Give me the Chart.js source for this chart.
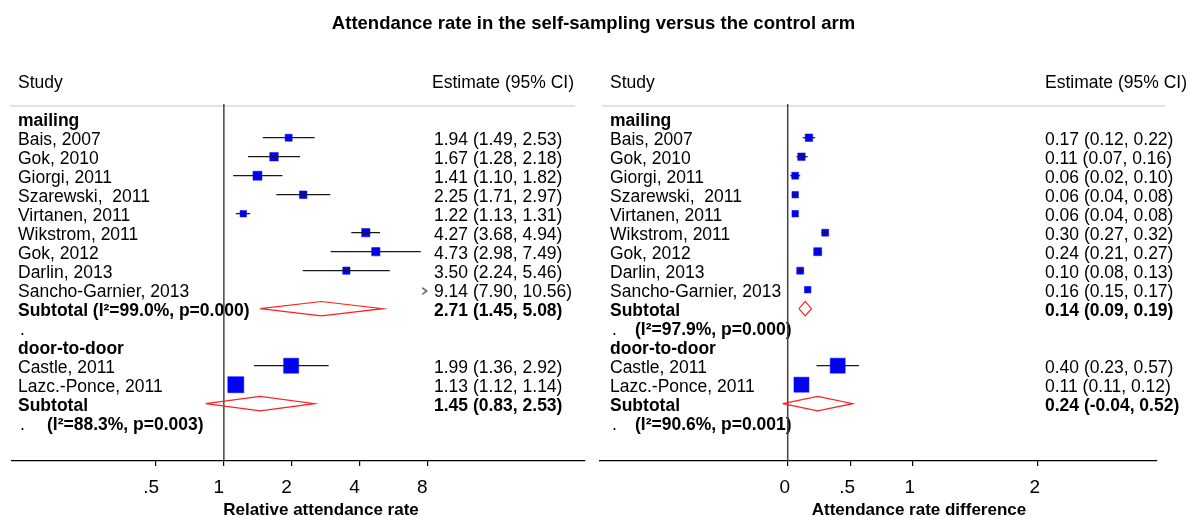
<!DOCTYPE html>
<html>
<head>
<meta charset="utf-8">
<title>Attendance rate forest plot</title>
<script src="https://cdn.jsdelivr.net/npm/chart.js@4.4.0/dist/chart.umd.min.js"></script>
<style>
  body { margin: 0; background: #fff; }
  #wrap { position: relative; width: 1187px; height: 517px; }
  #wrap canvas { position: absolute; left: 0; top: 0; }
  #title { position: absolute; left: 0; top: 12px; width: 1187px; text-align: center;
           font: bold 18.5px "Liberation Sans", Arial, sans-serif; line-height: 21px; color: #000; }
</style>
</head>
<body>
<div id="wrap">
  <canvas id="rr" width="1187" height="517"></canvas>
  <canvas id="rd" width="1187" height="517"></canvas>
  <div id="title">Attendance rate in the self-sampling versus the control arm</div>
</div>
<script>
const FONT = '"Liberation Sans", Arial, sans-serif';

// table rows, counted from the first group heading
const groups = ['mailing', 'door-to-door'];
const groupRows = [0, 12];
const studies = ['Bais, 2007', 'Gok, 2010', 'Giorgi, 2011', 'Szarewski,  2011', 'Virtanen, 2011',
  'Wikstrom, 2011', 'Gok, 2012', 'Darlin, 2013', 'Sancho-Garnier, 2013', 'Castle, 2011', 'Lazc.-Ponce, 2011'];
const studyRows = [1, 2, 3, 4, 5, 6, 7, 8, 9, 13, 14];
const subRows = [10, 15];

// relative attendance rate
const rrEst  = [1.94, 1.67, 1.41, 2.25, 1.22, 4.27, 4.73, 3.50, 9.14, 1.99, 1.13];
const rrLow  = [1.49, 1.28, 1.10, 1.71, 1.13, 3.68, 2.98, 2.24, 7.90, 1.36, 1.12];
const rrHigh = [2.53, 2.18, 1.82, 2.97, 1.31, 4.94, 7.49, 5.46, 10.56, 2.92, 1.14];
const rrWeight = [4.8, 7.1, 7.9, 5.5, 4.1, 6.7, 6.7, 5.2, 4.8, 22.0, 25.1];
const rrSubEst  = [2.71, 1.45];
const rrSubLow  = [1.45, 0.83];
const rrSubHigh = [5.08, 2.53];
const rrHet = ['(I²=99.0%, p=0.000)', '(I²=88.3%, p=0.003)'];
const rrTicks = [0.5, 1, 2, 4, 8];
const rrTickLabels = ['.5', '1', '2', '4', '8'];

// attendance rate difference
const rdEst  = [0.17, 0.11, 0.06, 0.06, 0.06, 0.30, 0.24, 0.10, 0.16, 0.40, 0.11];
const rdLow  = [0.12, 0.07, 0.02, 0.04, 0.04, 0.27, 0.21, 0.08, 0.15, 0.23, 0.11];
const rdHigh = [0.22, 0.16, 0.10, 0.08, 0.08, 0.32, 0.27, 0.13, 0.17, 0.57, 0.12];
const rdWeight = [6.2, 6.2, 5.4, 4.7, 4.7, 5.4, 7.1, 5.4, 4.7, 25.0, 25.0];
const rdSubEst  = [0.14, 0.24];
const rdSubLow  = [0.09, -0.04];
const rdSubHigh = [0.19, 0.52];
const rdHet = ['(I²=97.9%, p=0.000)', '(I²=90.6%, p=0.001)'];
const rdTicks = [0, 0.5, 1, 2];
const rdTickLabels = ['0', '.5', '1', '2'];

// vertical extent of the plot region, in rows
const yMin = -0.774;
const yMax = 18.016;

const panels = [
  { id: 'rr', xType: 'logarithmic', xMin: 0.11441, xMax: 40.16, nullValue: 1, clipMax: 8,
    est: rrEst, low: rrLow, high: rrHigh, weight: rrWeight, boxScale: 3.2,
    subEst: rrSubEst, subLow: rrSubLow, subHigh: rrSubHigh, het: rrHet, hetInline: [true, false],
    ticks: rrTicks, tickLabels: rrTickLabels, axisTitle: 'Relative attendance rate',
    pad: { left: 10, right: 602 }, labelOffset: -5,
    labelX: 18, estX: 434, headX: 432, hetX: 47, dotX: 20, ruleFrom: 10, ruleTo: 575, titleX: 321 },
  { id: 'rd', xType: 'linear', xMin: -1.5016, xMax: 2.9544, nullValue: 0, clipMax: Infinity,
    est: rdEst, low: rdLow, high: rdHigh, weight: rdWeight, boxScale: 3.0,
    subEst: rdSubEst, subLow: rdSubLow, subHigh: rdSubHigh, het: rdHet, hetInline: [false, false],
    ticks: rdTicks, tickLabels: rdTickLabels, axisTitle: 'Attendance rate difference',
    pad: { left: 600, right: 30 }, labelOffset: -3,
    labelX: 610, estX: 1045, headX: 1045, hetX: 635, dotX: 612, ruleFrom: 602, ruleTo: 1165, titleX: 919 }
];

// little ">" used for an estimate beyond the axis
const chevron = document.createElement('canvas');
chevron.width = 12;
chevron.height = 12;
const cc = chevron.getContext('2d');
cc.strokeStyle = '#222';
cc.lineWidth = 1.1;
cc.beginPath();
cc.moveTo(1, 4);
cc.lineTo(5.5, 7.3);
cc.lineTo(1, 10.6);
cc.stroke();

function ciText(e, l, h) {
  return e.toFixed(2) + ' (' + l.toFixed(2) + ', ' + h.toFixed(2) + ')';
}

function tablePlugin(p) {
  return {
    id: 'table_' + p.id,
    beforeDatasetsDraw(chart) {
      const ctx = chart.ctx;
      const yScale = chart.scales.y;
      const rowY = (r) => yScale.getPixelForValue(r) + 2.5;
      const reg = '17.5px ' + FONT;
      const bold = 'bold 17.5px ' + FONT;
      ctx.save();
      ctx.fillStyle = '#000';
      ctx.textBaseline = 'middle';
      ctx.textAlign = 'left';

      ctx.font = reg;
      ctx.fillText('Study', p.labelX, 83);
      ctx.fillText('Estimate (95% CI)', p.headX, 83);
      ctx.strokeStyle = '#d8d8d8';
      ctx.lineWidth = 1.6;
      ctx.beginPath();
      ctx.moveTo(p.ruleFrom, 106);
      ctx.lineTo(p.ruleTo, 106);
      ctx.stroke();

      ctx.font = bold;
      groups.forEach((g, i) => ctx.fillText(g, p.labelX, rowY(groupRows[i])));

      ctx.font = reg;
      studies.forEach((s, i) => {
        ctx.fillText(s, p.labelX, rowY(studyRows[i]));
        ctx.fillText(ciText(p.est[i], p.low[i], p.high[i]), p.estX, rowY(studyRows[i]));
      });

      subRows.forEach((r, i) => {
        ctx.font = bold;
        ctx.fillText(p.hetInline[i] ? 'Subtotal ' + p.het[i] : 'Subtotal', p.labelX, rowY(r));
        ctx.fillText(ciText(p.subEst[i], p.subLow[i], p.subHigh[i]), p.estX, rowY(r));
        ctx.font = reg;
        ctx.fillText('.', p.dotX, rowY(r + 1));
        if (!p.hetInline[i]) {
          ctx.font = bold;
          ctx.fillText(p.het[i], p.hetX, rowY(r + 1));
        }
      });

      ctx.font = 'bold 17px ' + FONT;
      ctx.textAlign = 'center';
      ctx.fillText(p.axisTitle, p.titleX, 510);
      ctx.restore();
    }
  };
}

function buildDatasets(p) {
  const ds = [];
  const shown = p.est.map((e) => e <= p.clipMax);

  // confidence intervals
  p.est.forEach((e, i) => {
    if (!shown[i]) return;
    ds.push({
      data: [{ x: p.low[i], y: studyRows[i] }, { x: p.high[i], y: studyRows[i] }],
      showLine: true, borderColor: '#1a1a1a', borderWidth: 1.2, pointRadius: 0, order: 0
    });
  });

  // study boxes, area proportional to weight
  ds.push({
    data: p.est.map((e, i) => ({ x: e, y: studyRows[i] })).filter((d, i) => shown[i]),
    pointStyle: 'rect',
    pointRadius: p.weight.filter((w, i) => shown[i]).map((w) => p.boxScale * Math.sqrt(w) / Math.SQRT2),
    backgroundColor: '#0000ff', borderColor: '#0000ff', borderWidth: 0.5, order: 1
  });

  const off = p.est.map((e, i) => ({ x: p.clipMax, y: studyRows[i] })).filter((d, i) => !shown[i]);
  if (off.length) {
    ds.push({ data: off, pointStyle: chevron, pointRadius: 6, order: 1 });
  }

  // pooled estimates
  p.subEst.forEach((e, i) => {
    const r = subRows[i];
    ds.push({
      data: [
        { x: p.subLow[i], y: r }, { x: e, y: r - 0.38 }, { x: p.subHigh[i], y: r },
        { x: e, y: r + 0.38 }, { x: p.subLow[i], y: r }
      ],
      showLine: true, borderColor: '#ff2020', borderWidth: 1.2, borderJoinStyle: 'miter',
      pointRadius: 0, fill: false, order: 2
    });
  });

  // line of no effect
  ds.push({
    data: [{ x: p.nullValue, y: yMin }, { x: p.nullValue, y: yMax }],
    showLine: true, borderColor: '#444', borderWidth: 1.5, pointRadius: 0, order: 3
  });
  return ds;
}

panels.forEach((p) => {
  new Chart(document.getElementById(p.id), {
    type: 'scatter',
    data: { datasets: buildDatasets(p) },
    options: {
      responsive: false,
      animation: false,
      events: [],
      layout: { padding: { left: p.pad.left, right: p.pad.right, top: 104, bottom: 0 } },
      plugins: {
        legend: { display: false },
        tooltip: { enabled: false }
      },
      scales: {
        x: {
          type: p.xType,
          min: p.xMin,
          max: p.xMax,
          bounds: 'data',
          afterBuildTicks: (scale) => {
            scale.ticks = p.ticks.map((v) => ({ value: v }));
          },
          afterFit: (scale) => {
            scale.height = 56;
          },
          border: { display: true, color: '#000', width: 1.2 },
          grid: { drawOnChartArea: false, drawTicks: true, tickLength: 5, color: '#000', lineWidth: 1.2 },
          ticks: {
            autoSkip: false,
            maxRotation: 0,
            padding: 10,
            labelOffset: p.labelOffset,
            color: '#000',
            font: { family: FONT, size: 19 },
            callback: (v) => p.tickLabels[p.ticks.indexOf(v)]
          }
        },
        y: {
          type: 'linear',
          display: false,
          reverse: true,
          min: yMin,
          max: yMax
        }
      }
    },
    plugins: [tablePlugin(p)]
  });
});
</script>
</body>
</html>
